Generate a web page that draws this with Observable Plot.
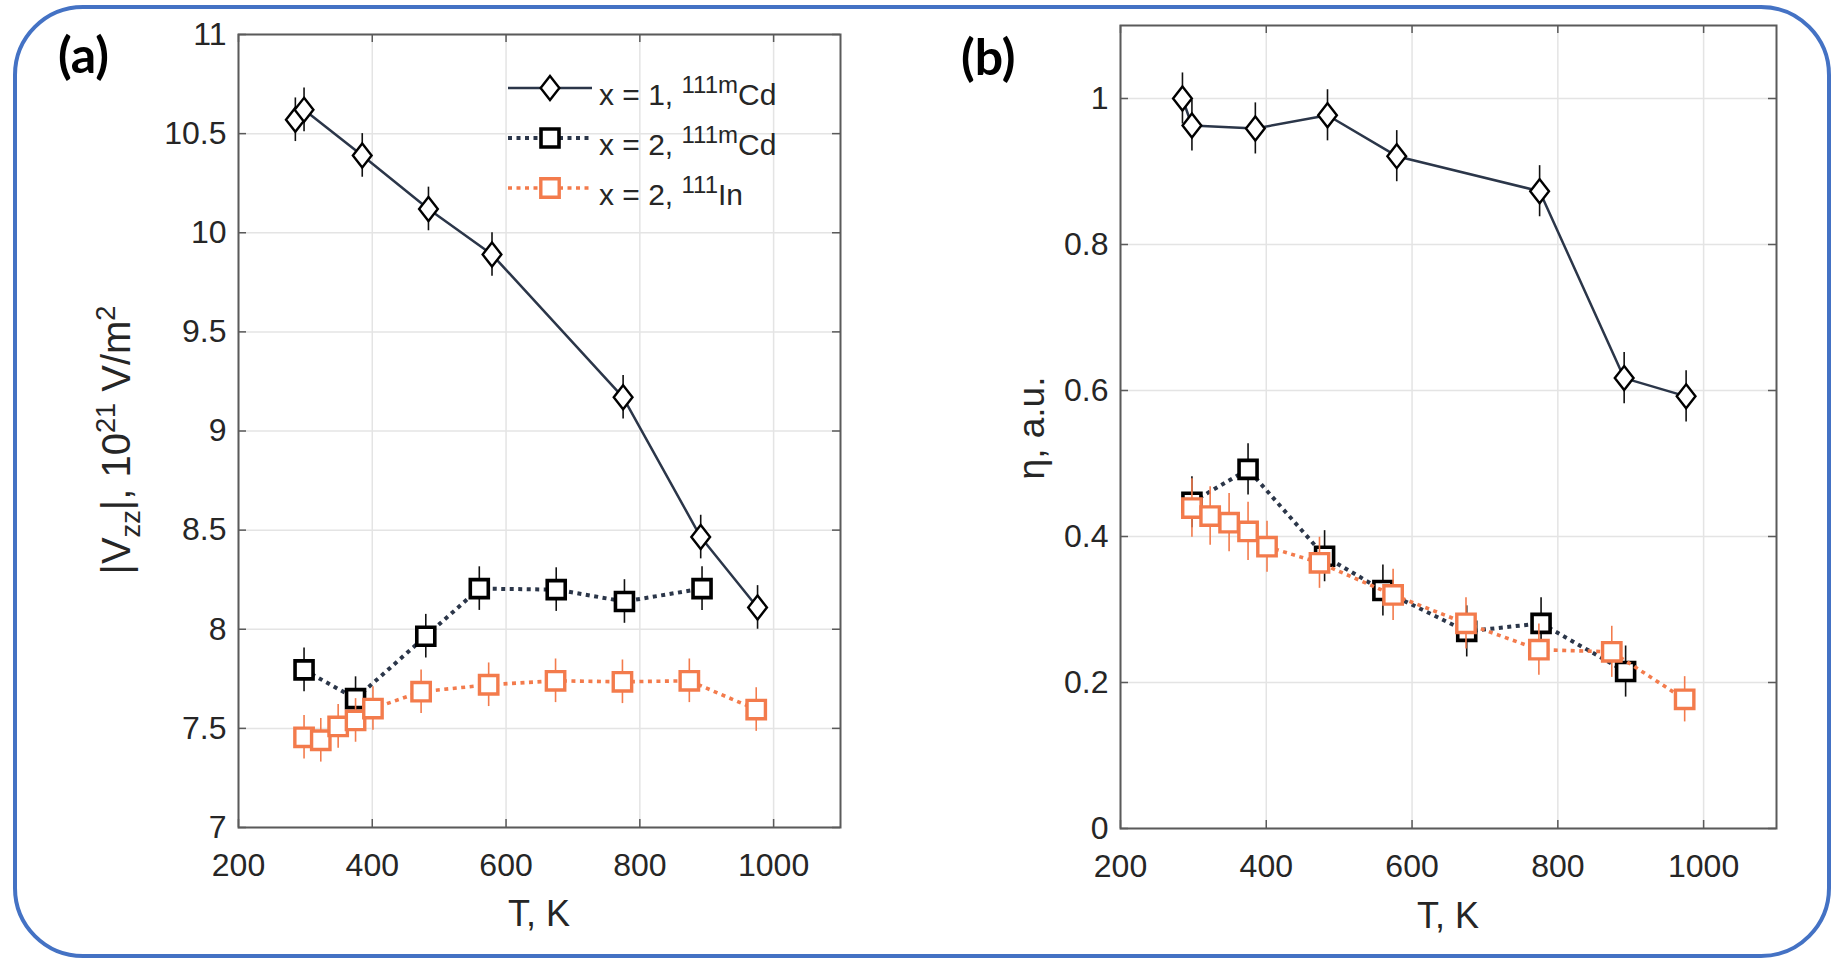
<!DOCTYPE html>
<html>
<head>
<meta charset="utf-8">
<script src="https://cdn.jsdelivr.net/npm/d3@7"></script>
<script src="https://cdn.jsdelivr.net/npm/@observablehq/plot@0.6"></script>
<style>
  html, body { margin: 0; padding: 0; background: #fff; }
  #wrap { position: relative; width: 1842px; height: 960px; overflow: hidden; font-family: "Liberation Sans", Arial, sans-serif; color: #262626; }
  #border { position: absolute; left: 13px; top: 5px; width: 1818px; height: 953px; box-sizing: border-box; border: 4px solid #4472C4; border-radius: 70px; }
  .panel { position: absolute; top: 0; }
  .lab { position: absolute; white-space: nowrap; font-size: 36px; line-height: 1; color: #262626; }
  .rot { transform: translate(-50%, -50%) rotate(-90deg); }
  .hcenter { transform: translate(-50%, 0); }
  .lab sub, .lab sup { font-size: 0.68em; line-height: 0; }
  .lab sub { vertical-align: -0.35em; }
  .lab sup { vertical-align: 0.55em; }
  .plab { position: absolute; font-family: Lato, "Open Sans", sans-serif; font-weight: bold; font-size: 50px; line-height: 1; color: #000; }
  #legend { position: absolute; left: 0; top: 0; }
</style>
</head>
<body>
<div id="wrap">
  <div id="border"></div>
  <div id="pa" class="panel" style="left:0px"></div>
  <div id="pb" class="panel" style="left:920px"></div>
  <div class="plab" style="left:58px; top:29px">(a)</div>
  <div class="plab" style="left:961px; top:31px">(b)</div>
  <div class="lab rot" style="left:116px; top:440px; font-size:40px">|V<sub>zz</sub>|, 10<sup>21</sup> V/m<sup>2</sup></div>
  <div class="lab rot" style="left:1031px; top:428px; font-size:37px">η, a.u.</div>
  <div class="lab hcenter" style="left:539px; top:896px">T, K</div>
  <div class="lab hcenter" style="left:1448px; top:898px">T, K</div>
</div>
<script>
// ---------- data ----------
const xTicks = [200, 400, 600, 800, 1000];
const vzzTicks = [7, 7.5, 8, 8.5, 9, 9.5, 10, 10.5, 11];
const etaTicks = [0, 0.2, 0.4, 0.6, 0.8, 1];

// series 1: x = 1, 111mCd
const T1 = [285, 298, 385, 484, 579, 775, 891, 976];
const Vzz1 = [10.57, 10.62, 10.39, 10.12, 9.89, 9.17, 8.465, 8.11];
const errVzz1 = [0.11, 0.11, 0.11, 0.11, 0.11, 0.11, 0.11, 0.11];
const eta1 = [1.000, 0.963, 0.959, 0.977, 0.921, 0.873, 0.617, 0.592];
const errEta1 = [0.035, 0.035, 0.035, 0.035, 0.035, 0.035, 0.035, 0.035];

// series 2: x = 2, 111mCd
const T2 = [298, 375, 480, 560, 675, 777, 893];
const Vzz2 = [7.795, 7.65, 7.965, 8.205, 8.20, 8.14, 8.205];
const errVzz2 = [0.11, 0.11, 0.11, 0.11, 0.11, 0.11, 0.11];
const eta2 = [0.447, 0.492, 0.373, 0.326, 0.270, 0.281, 0.215];
const errEta2 = [0.035, 0.035, 0.035, 0.035, 0.035, 0.035, 0.035];

// series 3: x = 2, 111In
const T3 = [298, 323, 349, 375, 401, 473, 574, 674, 774, 874, 974];
const Vzz3 = [7.455, 7.44, 7.51, 7.54, 7.60, 7.685, 7.72, 7.74, 7.735, 7.74, 7.595];
const errVzz3 = [0.11, 0.11, 0.11, 0.11, 0.11, 0.11, 0.11, 0.11, 0.11, 0.11, 0.11];
const eta3 = [0.439, 0.428, 0.419, 0.407, 0.386, 0.364, 0.320, 0.281, 0.245, 0.242, 0.177];
const errEta3 = [0.04, 0.04, 0.04, 0.04, 0.035, 0.035, 0.035, 0.035, 0.035, 0.035, 0.031];

const seriesNames = [
  {pre: "x = 1, ", sup: "111m", el: "Cd"},
  {pre: "x = 2, ", sup: "111m", el: "Cd"},
  {pre: "x = 2, ", sup: "111", el: "In"}
];

// ---------- styles ----------
const navy = "#2b3649";
const orange = "#f37b4c";
const frameColor = "#5a5a5a";
const gridColor = "#e4e4e4";

const diamondSym = { draw(ctx, size) { const ry = Math.sqrt(size / Math.PI); const rx = ry * 0.78;
  ctx.moveTo(0, -ry); ctx.lineTo(rx, 0); ctx.lineTo(0, ry); ctx.lineTo(-rx, 0); ctx.closePath(); } };
const squareSym = { draw(ctx, size) { const h = Math.sqrt(size / Math.PI);
  ctx.moveTo(-h, -h); ctx.lineTo(h, -h); ctx.lineTo(h, h); ctx.lineTo(-h, h); ctx.closePath(); } };

const seriesStyle = [
  {line: {stroke: navy, strokeWidth: 2.5}, err: "#111", dot: {symbol: diamondSym, r: 12, stroke: "#000", strokeWidth: 2.4}},
  {line: {stroke: navy, strokeWidth: 4, strokeDasharray: "4 4.5", strokeLinecap: "butt"}, err: "#111", dot: {symbol: squareSym, r: 9, stroke: "#000", strokeWidth: 3.6}},
  {line: {stroke: orange, strokeWidth: 3.6, strokeDasharray: "4 4.5", strokeLinecap: "butt"}, err: orange, dot: {symbol: squareSym, r: 9.2, stroke: orange, strokeWidth: 3.4}}
];

function rows(T, v, e) { return T.map((t, i) => ({T: t, v: v[i], e: e[i]})); }

function makePanel({W, H, mt, mr, mb, ml, yDomain, yTicks, data}) {
  const fw = W - ml - mr, fh = H - mt - mb;
  const marks = [
    Plot.gridX(xTicks, {stroke: gridColor, strokeOpacity: 1, strokeWidth: 1.5}),
    Plot.gridY(yTicks, {stroke: gridColor, strokeOpacity: 1, strokeWidth: 1.5}),
    Plot.frame({stroke: frameColor, strokeWidth: 2}),
    Plot.tickX(xTicks, {x: d => d, insetTop: fh - 8, stroke: frameColor, strokeWidth: 1.5}),
    Plot.tickX(xTicks, {x: d => d, insetBottom: fh - 8, stroke: frameColor, strokeWidth: 1.5}),
    Plot.tickY(yTicks, {y: d => d, insetRight: fw - 8, stroke: frameColor, strokeWidth: 1.5}),
    Plot.tickY(yTicks, {y: d => d, insetLeft: fw - 8, stroke: frameColor, strokeWidth: 1.5}),
    Plot.axisX({ticks: xTicks, tickSize: 0, tickPadding: 26, tickFormat: d => String(d), label: null, fontSize: 32, fill: "#262626"}),
    Plot.axisY({ticks: yTicks, tickSize: 0, tickPadding: 12, tickFormat: d => String(d), label: null, fontSize: 32, fill: "#262626"})
  ];
  data.forEach((d, i) => {
    const s = seriesStyle[i];
    marks.push(Plot.line(d, {x: "T", y: "v", ...s.line}));
    marks.push(Plot.ruleX(d, {x: "T", y1: r => r.v - r.e, y2: r => r.v + r.e, stroke: s.err, strokeWidth: 1.6}));
    marks.push(Plot.dot(d, {x: "T", y: "v", fill: "#fff", ...s.dot}));
  });
  return Plot.plot({
    width: W, height: H, marginTop: mt, marginRight: mr, marginBottom: mb, marginLeft: ml,
    x: {domain: [200, 1100]},
    y: {domain: yDomain},
    style: {fontFamily: "'Liberation Sans', Arial, sans-serif", fontSize: "32px", color: "#262626", background: "transparent", overflow: "visible"},
    marks
  });
}

const pa = makePanel({
  W: 900, H: 960, mt: 34, mr: 60, mb: 133, ml: 238,
  yDomain: [7, 11], yTicks: vzzTicks,
  data: [rows(T1, Vzz1, errVzz1), rows(T2, Vzz2, errVzz2), rows(T3, Vzz3, errVzz3)]
});
document.getElementById("pa").appendChild(pa);

const pb = makePanel({
  W: 922, H: 960, mt: 25, mr: 66, mb: 132, ml: 200,
  yDomain: [0, 1.1], yTicks: etaTicks,
  data: [rows(T1, eta1, errEta1), rows(T2, eta2, errEta2), rows(T3, eta3, errEta3)]
});
document.getElementById("pb").appendChild(pb);

// ---------- legend (inside panel a) ----------
const leg = d3.select("#wrap").append("svg")
  .attr("id", "legend").attr("width", 1842).attr("height", 960)
  .style("position", "absolute").style("left", "0px").style("top", "0px");
seriesNames.forEach((n, i) => {
  const s = seriesStyle[i];
  const ly = 88 + i * 50;
  leg.append("line").attr("x1", 508).attr("x2", 592).attr("y1", ly).attr("y2", ly)
    .attr("stroke", s.line.stroke).attr("stroke-width", s.line.strokeWidth)
    .attr("stroke-dasharray", s.line.strokeDasharray || null);
  const p = d3.path();
  s.dot.symbol.draw(p, Math.PI * s.dot.r * s.dot.r);
  leg.append("path").attr("d", p.toString()).attr("transform", `translate(550,${ly})`)
    .attr("fill", "#fff").attr("stroke", s.dot.stroke).attr("stroke-width", s.dot.strokeWidth);
  const t = leg.append("text").attr("x", 599).attr("y", ly + 17)
    .attr("font-family", "'Liberation Sans', Arial, sans-serif").attr("font-size", 30).attr("fill", "#262626")
    .attr("xml:space", "preserve");
  t.append("tspan").text(n.pre);
  t.append("tspan").attr("font-size", 24).attr("dy", -12).text(n.sup);
  t.append("tspan").attr("dy", 12).text(n.el);
});
</script>
</body>
</html>
